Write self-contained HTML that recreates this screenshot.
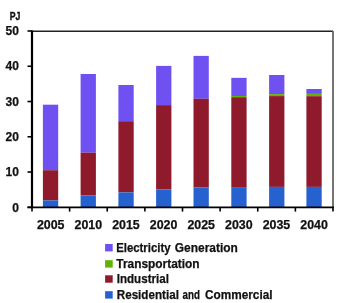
<!DOCTYPE html>
<html><head><meta charset="utf-8"><style>
html,body{margin:0;padding:0;background:#fff;width:349px;height:303px;overflow:hidden}
svg{display:block;will-change:transform}
text{font-family:"Liberation Sans",sans-serif;font-weight:bold;font-size:12px;fill:#111;stroke:#111;stroke-width:0.25px}
</style></head><body>
<svg width="349" height="303" viewBox="0 0 349 303">
<rect x="42.9" y="104.7" width="15.3" height="65.50" fill="#6f50f0"/>
<rect x="42.9" y="170.2" width="15.3" height="30.20" fill="#8f1a2c"/>
<rect x="42.9" y="200.4" width="15.3" height="6.60" fill="#2562d0"/>
<rect x="80.6" y="74.0" width="15.3" height="78.70" fill="#6f50f0"/>
<rect x="80.6" y="152.7" width="15.3" height="42.70" fill="#8f1a2c"/>
<rect x="80.6" y="195.4" width="15.3" height="11.60" fill="#2562d0"/>
<rect x="118.4" y="85.0" width="15.3" height="36.20" fill="#6f50f0"/>
<rect x="118.4" y="121.2" width="15.3" height="71.20" fill="#8f1a2c"/>
<rect x="118.4" y="192.4" width="15.3" height="14.60" fill="#2562d0"/>
<rect x="156.1" y="65.9" width="15.3" height="39.20" fill="#6f50f0"/>
<rect x="156.1" y="105.1" width="15.3" height="84.30" fill="#8f1a2c"/>
<rect x="156.1" y="189.4" width="15.3" height="17.60" fill="#2562d0"/>
<rect x="193.5" y="55.9" width="15.3" height="42.90" fill="#6f50f0"/>
<rect x="193.5" y="98.8" width="15.3" height="88.70" fill="#8f1a2c"/>
<rect x="193.5" y="187.5" width="15.3" height="19.50" fill="#2562d0"/>
<rect x="231.3" y="77.85" width="15.3" height="18.15" fill="#6f50f0"/>
<rect x="231.3" y="96.0" width="15.3" height="1.20" fill="#62b105"/>
<rect x="231.3" y="97.2" width="15.3" height="89.90" fill="#8f1a2c"/>
<rect x="231.3" y="187.1" width="15.3" height="19.90" fill="#2562d0"/>
<rect x="269.1" y="75.0" width="15.3" height="19.10" fill="#6f50f0"/>
<rect x="269.1" y="94.1" width="15.3" height="2.00" fill="#62b105"/>
<rect x="269.1" y="96.1" width="15.3" height="90.80" fill="#8f1a2c"/>
<rect x="269.1" y="186.9" width="15.3" height="20.10" fill="#2562d0"/>
<rect x="306.4" y="89.0" width="15.3" height="4.90" fill="#6f50f0"/>
<rect x="306.4" y="93.9" width="15.3" height="2.30" fill="#62b105"/>
<rect x="306.4" y="96.2" width="15.3" height="90.70" fill="#8f1a2c"/>
<rect x="306.4" y="186.9" width="15.3" height="20.10" fill="#2562d0"/>
<line x1="32" y1="31.2" x2="333" y2="31.2" stroke="#222" stroke-width="1.4"/>
<line x1="333" y1="31" x2="333" y2="207.3" stroke="#666" stroke-width="1.8"/>
<line x1="32" y1="30.5" x2="32" y2="208.2" stroke="#000" stroke-width="2.2"/>
<line x1="27.5" y1="207.3" x2="334" y2="207.3" stroke="#000" stroke-width="1.8"/>
<line x1="27.5" y1="207.30" x2="32" y2="207.30" stroke="#000" stroke-width="1.6"/>
<line x1="27.5" y1="172.04" x2="32" y2="172.04" stroke="#000" stroke-width="1.6"/>
<line x1="27.5" y1="136.78" x2="32" y2="136.78" stroke="#000" stroke-width="1.6"/>
<line x1="27.5" y1="101.52" x2="32" y2="101.52" stroke="#000" stroke-width="1.6"/>
<line x1="27.5" y1="66.26" x2="32" y2="66.26" stroke="#000" stroke-width="1.6"/>
<line x1="27.5" y1="31.00" x2="32" y2="31.00" stroke="#000" stroke-width="1.6"/>
<line x1="32.00" y1="207" x2="32.00" y2="211.6" stroke="#000" stroke-width="1.6"/>
<line x1="69.62" y1="207" x2="69.62" y2="211.6" stroke="#000" stroke-width="1.6"/>
<line x1="107.25" y1="207" x2="107.25" y2="211.6" stroke="#000" stroke-width="1.6"/>
<line x1="144.88" y1="207" x2="144.88" y2="211.6" stroke="#000" stroke-width="1.6"/>
<line x1="182.50" y1="207" x2="182.50" y2="211.6" stroke="#000" stroke-width="1.6"/>
<line x1="220.12" y1="207" x2="220.12" y2="211.6" stroke="#000" stroke-width="1.6"/>
<line x1="257.75" y1="207" x2="257.75" y2="211.6" stroke="#000" stroke-width="1.6"/>
<line x1="295.38" y1="207" x2="295.38" y2="211.6" stroke="#000" stroke-width="1.6"/>
<line x1="333.00" y1="207" x2="333.00" y2="211.6" stroke="#000" stroke-width="1.6"/>
<text x="18.9" y="211.50" text-anchor="end">0</text>
<text x="18.9" y="176.24" text-anchor="end">10</text>
<text x="18.9" y="140.98" text-anchor="end">20</text>
<text x="18.9" y="105.72" text-anchor="end">30</text>
<text x="18.9" y="70.46" text-anchor="end">40</text>
<text x="18.9" y="35.20" text-anchor="end">50</text>
<text x="50.71" y="229.4" text-anchor="middle" textLength="27.6" lengthAdjust="spacingAndGlyphs">2005</text>
<text x="88.34" y="229.4" text-anchor="middle" textLength="27.6" lengthAdjust="spacingAndGlyphs">2010</text>
<text x="125.96" y="229.4" text-anchor="middle" textLength="27.6" lengthAdjust="spacingAndGlyphs">2015</text>
<text x="163.59" y="229.4" text-anchor="middle" textLength="27.6" lengthAdjust="spacingAndGlyphs">2020</text>
<text x="201.21" y="229.4" text-anchor="middle" textLength="27.6" lengthAdjust="spacingAndGlyphs">2025</text>
<text x="238.84" y="229.4" text-anchor="middle" textLength="27.6" lengthAdjust="spacingAndGlyphs">2030</text>
<text x="276.46" y="229.4" text-anchor="middle" textLength="27.6" lengthAdjust="spacingAndGlyphs">2035</text>
<text x="314.09" y="229.4" text-anchor="middle" textLength="27.6" lengthAdjust="spacingAndGlyphs">2040</text>
<text x="116.16" y="251.5" textLength="54.37" lengthAdjust="spacingAndGlyphs">Electricity</text>
<text x="174.84" y="251.5" textLength="62.98" lengthAdjust="spacingAndGlyphs">Generation</text>
<text x="116.29" y="267.7" textLength="83.31" lengthAdjust="spacingAndGlyphs">Transportation</text>
<text x="116.75" y="282.8" textLength="52.15" lengthAdjust="spacingAndGlyphs">Industrial</text>
<text x="116.75" y="298.7" textLength="62.15" lengthAdjust="spacingAndGlyphs">Residential</text>
<text x="182.54" y="298.7" textLength="17.38" lengthAdjust="spacingAndGlyphs">and</text>
<text x="205.04" y="298.7" textLength="67.47" lengthAdjust="spacingAndGlyphs">Commercial</text>
<text x="9.74" y="19.5" style="font-size:10.5px;stroke-width:0.4px" textLength="10.62" lengthAdjust="spacingAndGlyphs">PJ</text>
<rect x="105.1" y="244.0" width="7.6" height="7.4" fill="#6f50f0"/>
<rect x="105.1" y="260.2" width="7.6" height="7.4" fill="#62b105"/>
<rect x="105.1" y="275.3" width="7.6" height="7.4" fill="#8f1a2c"/>
<rect x="105.1" y="291.2" width="7.6" height="7.4" fill="#2562d0"/>
</svg>
</body></html>
